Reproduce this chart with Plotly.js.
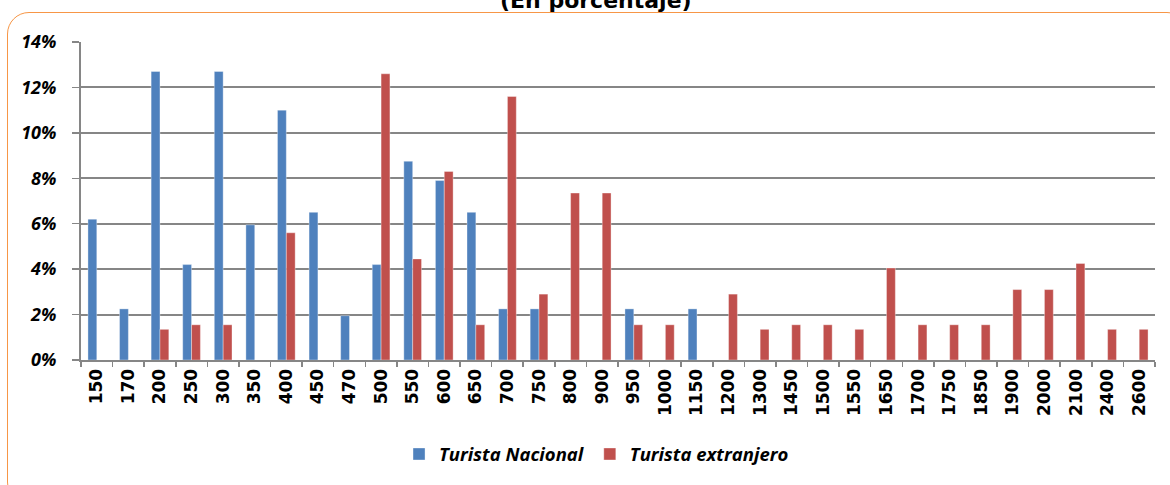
<!DOCTYPE html>
<html>
<head>
<meta charset="utf-8">
<script src="https://cdn.plot.ly/plotly-3.0.1.min.js"></script>
<style>
  html, body { margin: 0; padding: 0; background: #fff; }
  #wrap { position: relative; width: 1170px; height: 485px; overflow: hidden; }
  #chart { width: 1170px; height: 485px; }
  #frame {
    position: absolute; left: 7px; top: 12px; width: 1180px; height: 490px;
    border: 1.5px solid #F79646; border-radius: 22px; pointer-events: none;
  }
</style>
</head>
<body>
<div id="wrap">
  <div id="chart"></div>
  <div id="frame"></div>
</div>
<script>
const precios = ['150', '170', '200', '250', '300', '350', '400', '450', '470', '500',
  '550', '600', '650', '700', '750', '800', '900', '950', '1000', '1150',
  '1200', '1300', '1450', '1500', '1550', '1650', '1700', '1750', '1850', '1900',
  '2000', '2100', '2400', '2600'];

// porcentaje de turistas por precio pagado
const nacional = [6.2, 2.25, 12.7, 4.2, 12.7, 5.95, 11.0, 6.5, 1.95, 4.2,
  8.75, 7.9, 6.5, 2.25, 2.25, 0, 0, 2.25, 0, 2.25,
  0, 0, 0, 0, 0, 0, 0, 0, 0, 0,
  0, 0, 0, 0];

const extranjero = [0, 0, 1.35, 1.55, 1.55, 0, 5.6, 0, 0, 12.6,
  4.45, 8.3, 1.55, 11.6, 2.9, 7.35, 7.35, 1.55, 1.55, 0,
  2.9, 1.35, 1.55, 1.55, 1.35, 4.05, 1.55, 1.55, 1.55, 3.1,
  3.1, 4.25, 1.35, 1.35];

const yTicks = [0, 2, 4, 6, 8, 10, 12, 14];

const gridGray = '#868686';

const trazaNacional = {
  type: 'bar',
  x: precios,
  y: nacional,
  name: '<b><i>Turista Nacional</i></b>',
  marker: { color: '#4F81BD', line: { color: 'rgba(255,255,255,0.35)', width: 1 } }
};

const trazaExtranjero = {
  type: 'bar',
  x: precios,
  y: extranjero,
  name: '<b><i>Turista extranjero</i></b>',
  marker: { color: '#C0504D', line: { color: 'rgba(255,255,255,0.35)', width: 1 } }
};

const layout = {
  width: 1170,
  height: 485,
  margin: { l: 81, r: 15, t: 42, b: 123 },
  paper_bgcolor: 'rgba(0,0,0,0)',
  plot_bgcolor: 'rgba(0,0,0,0)',
  barmode: 'group',
  bargap: 0.44,
  bargroupgap: 0,
  showlegend: true,
  legend: {
    orientation: 'h',
    x: 0.48, xanchor: 'center',
    y: -0.297, yanchor: 'middle',
    font: { family: '"Open Sans", sans-serif', size: 18.5, color: '#000' },
    itemwidth: 30,
    traceorder: 'normal'
  },
  xaxis: {
    type: 'category',
    automargin: false,
    tickvals: precios,
    ticktext: precios.map(p => '<b>' + p + '</b>'),
    tickangle: -90,
    tickson: 'boundaries',
    ticks: 'outside',
    ticklen: 5,
    tickcolor: gridGray,
    tickwidth: 1.5,
    showline: true,
    linecolor: gridGray,
    linewidth: 2,
    showgrid: false,
    tickfont: { family: '"DejaVu Sans", sans-serif', size: 17, color: '#000' },
    fixedrange: true
  },
  yaxis: {
    range: [0, 14],
    automargin: false,
    tickvals: yTicks,
    ticktext: yTicks.map(v => '<b><i>' + v + '%</i></b>'),
    ticks: 'outside',
    ticklen: 7,
    tickcolor: gridGray,
    tickwidth: 1.5,
    ticklabelstandoff: 12,
    showline: true,
    linecolor: gridGray,
    linewidth: 2,
    showgrid: true,
    gridcolor: gridGray,
    gridwidth: 2,
    zeroline: false,
    tickfont: { family: '"Open Sans", sans-serif', size: 18, color: '#000' },
    fixedrange: true
  },
  annotations: [{
    text: '<b>(En porcentaje)</b>',
    xref: 'paper', yref: 'paper',
    x: 0.4795, y: 1.085,
    xanchor: 'center', yanchor: 'bottom',
    showarrow: false,
    font: { family: '"DejaVu Sans", sans-serif', size: 22, color: '#000' }
  }]
};

Plotly.newPlot('chart', [trazaNacional, trazaExtranjero], layout, { displayModeBar: false, staticPlot: true });
</script>
</body>
</html>
